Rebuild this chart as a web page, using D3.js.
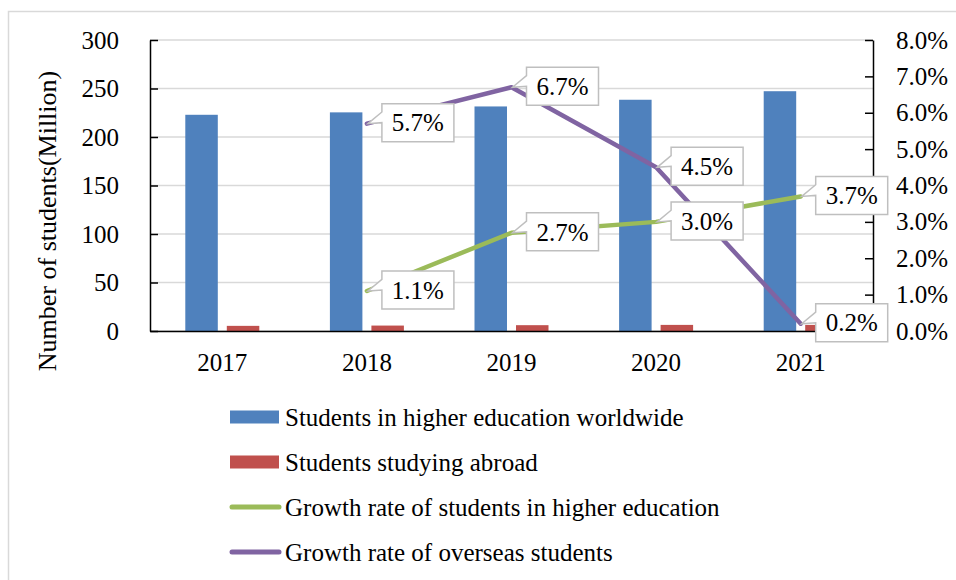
<!DOCTYPE html>
<html>
<head>
<meta charset="utf-8">
<script src="https://cdn.jsdelivr.net/npm/d3@7"></script>
<style>
  body { margin: 0; background: #fff; }
  text { font-family: "Liberation Serif", "Times New Roman", serif; fill: #000; }
</style>
</head>
<body>
<svg id="chart" width="956" height="580"></svg>
<script>
// Student numbers (millions) and year-on-year growth rates (%)
const years = ["2017", "2018", "2019", "2020", "2021"];
const higherEd = [222.9, 225.4, 231.5, 238.4, 247.2];
const abroad = [5.3, 5.6, 6.0, 6.3, 6.3];
const higherEdGrowth = [null, 1.1, 2.7, 3.0, 3.7];
const abroadGrowth = [null, 5.7, 6.7, 4.5, 0.2];
const leftTicks = [0, 50, 100, 150, 200, 250, 300];
const rightTicks = [0, 1, 2, 3, 4, 5, 6, 7, 8];

const seriesNames = [
  "Students in higher education worldwide",
  "Students studying abroad",
  "Growth rate of students in higher education",
  "Growth rate of overseas students"
];
const colors = { blue: "#4f81bd", red: "#c0504d", green: "#9bbb59", purple: "#8064a2" };

const svg = d3.select("#chart");
const plot = { left: 150, right: 873, top: 40, bottom: 331 };
const fontSize = 25;

// outer frame
svg.append("rect")
  .attr("x", 8.5).attr("y", 11.5).attr("width", 1000).attr("height", 1000)
  .attr("fill", "none").attr("stroke", "#d9d9d9").attr("stroke-width", 1.5);

const x0 = d3.scaleBand().domain(years).range([plot.left, plot.right]).padding(0);
const groupW = 74;
const x1 = d3.scaleBand().domain(["hi", "ab"])
  .range([x0.bandwidth() / 2 - groupW / 2, x0.bandwidth() / 2 + groupW / 2])
  .paddingInner(0.217);
const yL = d3.scaleLinear().domain([0, 300]).range([plot.bottom, plot.top]);
const yR = d3.scaleLinear().domain([0, 8]).range([plot.bottom, plot.top]);

// gridlines
svg.append("g").selectAll("line").data(leftTicks).join("line")
  .attr("x1", plot.left).attr("x2", plot.right)
  .attr("y1", d => yL(d)).attr("y2", d => yL(d))
  .attr("stroke", "#d9d9d9").attr("stroke-width", 1.5);

// bars
const barData = years.map((y, i) => ({ year: y, hi: higherEd[i], ab: abroad[i] }));
const groups = svg.append("g").selectAll("g").data(barData).join("g")
  .attr("transform", d => `translate(${x0(d.year)},0)`);
groups.append("rect")
  .attr("x", x1("hi")).attr("width", x1.bandwidth())
  .attr("y", d => yL(d.hi)).attr("height", d => yL(0) - yL(d.hi))
  .attr("fill", colors.blue);
groups.append("rect")
  .attr("x", x1("ab")).attr("width", x1.bandwidth())
  .attr("y", d => yL(d.ab)).attr("height", d => yL(0) - yL(d.ab))
  .attr("fill", colors.red);

// axes
const leftAxis = svg.append("g").attr("transform", `translate(${plot.left},0)`)
  .call(d3.axisLeft(yL).tickValues(leftTicks).tickSizeInner(-8).tickSizeOuter(0).tickPadding(31));
const rightAxis = svg.append("g").attr("transform", `translate(${plot.right},0)`)
  .call(d3.axisRight(yR).tickValues(rightTicks).tickSizeInner(-8).tickSizeOuter(0).tickPadding(23)
    .tickFormat(d => d.toFixed(1) + "%"));
const bottomAxis = svg.append("g").attr("transform", `translate(0,${plot.bottom})`)
  .call(d3.axisBottom(x0).tickSize(0).tickPadding(22));
[leftAxis, rightAxis, bottomAxis].forEach(g => {
  g.select(".domain").attr("stroke", "#000").attr("stroke-width", 1.5);
  g.selectAll(".tick line").attr("stroke", "#000").attr("stroke-width", 1.5);
  g.selectAll("text").attr("font-size", fontSize).attr("fill", "#000");
});

// left axis title
svg.append("text")
  .attr("transform", "translate(56,221) rotate(-90)")
  .attr("text-anchor", "middle").attr("font-size", 26)
  .text("Number of students(Million)");

// growth-rate lines
const cx = y => x0(y) + x0.bandwidth() / 2;
const line = d3.line()
  .defined(d => d.v != null)
  .x(d => cx(d.year)).y(d => yR(d.v));
const lineSeries = [
  { values: higherEdGrowth, color: colors.green },
  { values: abroadGrowth, color: colors.purple }
];
lineSeries.forEach(s => {
  const pts = years.map((y, i) => ({ year: y, v: s.values[i] }));
  svg.append("path").datum(pts).attr("d", line)
    .attr("fill", "none").attr("stroke", s.color).attr("stroke-width", 4.5)
    .attr("stroke-linejoin", "round").attr("stroke-linecap", "round");
});

// callout labels
const boxW = 72, boxH = 38, gap = 15;
const labels = [];
lineSeries.forEach(s => {
  years.forEach((y, i) => {
    if (s.values[i] != null) labels.push({ year: y, v: s.values[i] });
  });
});
const lg = svg.append("g").selectAll("g").data(labels).join("g");
lg.append("path")
  .attr("d", d => {
    const px = cx(d.year), py = yR(d.v);
    const l = px + gap, t = py - boxH / 2 - 1, r = l + boxW, b = t + boxH;
    return `M${l},${t}H${r}V${b}H${l}V${t + boxH * 0.5}L${px + 1},${py}L${l},${t + boxH * 0.22}Z`;
  })
  .attr("fill", "#fff").attr("stroke", "#bfbfbf").attr("stroke-width", 1.5);
lg.append("text")
  .attr("x", d => cx(d.year) + gap + boxW / 2)
  .attr("y", d => yR(d.v) - 1)
  .attr("dy", "0.35em")
  .attr("text-anchor", "middle").attr("font-size", fontSize)
  .text(d => d.v.toFixed(1) + "%");

// legend
const legendRows = [
  { name: seriesNames[0], color: colors.blue, type: "rect", y: 417 },
  { name: seriesNames[1], color: colors.red, type: "rect", y: 462 },
  { name: seriesNames[2], color: colors.green, type: "line", y: 507 },
  { name: seriesNames[3], color: colors.purple, type: "line", y: 552 }
];
const leg = svg.append("g").selectAll("g").data(legendRows).join("g")
  .attr("transform", d => `translate(230,${d.y})`);
leg.filter(d => d.type === "rect").append("rect")
  .attr("x", 0).attr("y", -6.5).attr("width", 49).attr("height", 13)
  .attr("fill", d => d.color);
leg.filter(d => d.type === "line").append("line")
  .attr("x1", 2).attr("x2", 49).attr("y1", 0).attr("y2", 0)
  .attr("stroke", d => d.color).attr("stroke-width", 5).attr("stroke-linecap", "round");
leg.append("text")
  .attr("x", 55).attr("dy", "0.35em").attr("font-size", fontSize)
  .text(d => d.name);
</script>
</body>
</html>
